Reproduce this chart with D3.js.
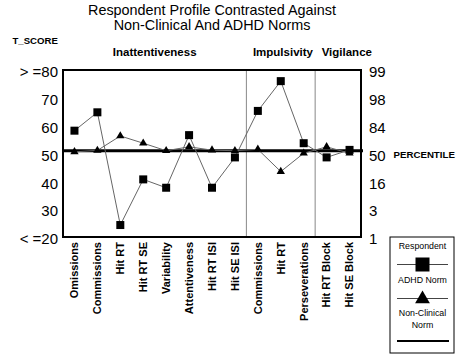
<!DOCTYPE html>
<html>
<head>
<meta charset="utf-8">
<script src="https://cdn.jsdelivr.net/npm/d3@7"></script>
<style>
  html, body { margin: 0; padding: 0; background: #fff; }
  svg { display: block; font-family: Arial, "Liberation Sans", Helvetica, sans-serif; }
</style>
</head>
<body>
<svg id="chart" width="462" height="356"></svg>
<script>
const categories = ["Omissions","Commissions","Hit RT","Hit RT SE","Variability","Attentiveness","Hit RT ISI","Hit SE ISI","Commissions","Hit RT","Perseverations","Hit RT Block","Hit SE Block"];
const groupNames = ["Inattentiveness","Impulsivity","Vigilance"];
const groupSizes = [8, 3, 2];
const respondent = [58.2, 64.8, 24.3, 40.7, 37.7, 56.6, 37.7, 48.6, 65.3, 76, 53.7, 48.6, 51.3];
const adhdNorm = [50.6, 51.1, 56.3, 53.7, 51, 52.4, 51.2, 51, 51.5, 43.5, 50.1, 52.4, 50.1];
const nonClinicalNorm = 51;
const tScoreTicks = [20, 30, 40, 50, 60, 70, 80];
const tScoreLabels = ["< =20", "30", "40", "50", "60", "70", "> =80"];
const percentileLabels = ["1", "3", "16", "50", "84", "98", "99"];
const titleLines = ["Respondent Profile Contrasted Against", "Non-Clinical And ADHD Norms"];
const legendLabels = ["Respondent", "ADHD Norm", "Non-Clinical", "Norm"];

const svg = d3.select("#chart");
const L = 63, R = 361, T = 70, B = 237;

const x = d3.scaleBand().domain(d3.range(categories.length)).range([L, R]).padding(0);
const y = d3.scaleLinear().domain([20, 80]).range([B, T]);
const cx = i => x(i) + x.bandwidth() / 2;

// Title
svg.append("g").selectAll("text").data(titleLines).join("text")
  .attr("x", 212).attr("y", (d, i) => 15 + i * 15)
  .attr("text-anchor", "middle").attr("font-size", 14.4).attr("fill", "#000")
  .text(d => d);

// T_SCORE label
svg.append("text").attr("x", 12.5).attr("y", 43.5).attr("font-size", 9.6)
  .attr("font-weight", "bold").text("T_SCORE");

// Group labels
let start = 0;
const groupStarts = groupSizes.map(s => { const st = start; start += s; return st; });
svg.append("g").selectAll("text").data(groupNames).join("text")
  .attr("x", (d, i) => i === 0 ? (x(groupStarts[0]) + x(groupStarts[0] + groupSizes[0] - 1) + x.bandwidth()) / 2 : x(groupStarts[i]) + 6.5)
  .attr("y", 55.5)
  .attr("text-anchor", (d, i) => i === 0 ? "middle" : "start")
  .attr("font-size", 11.5).attr("font-weight", "bold")
  .text(d => d);

// Dividers
svg.append("g").selectAll("line").data(groupStarts.slice(1)).join("line")
  .attr("x1", d => x(d)).attr("x2", d => x(d)).attr("y1", T).attr("y2", B)
  .attr("stroke", "#888").attr("stroke-width", 1);

// Left axis
const leftAxis = d3.axisLeft(y).tickValues(tScoreTicks).tickSize(0).tickPadding(0)
  .tickFormat((d, i) => tScoreLabels[i]);
const gl = svg.append("g").attr("transform", `translate(58,0)`).call(leftAxis);
gl.select(".domain").remove();
gl.selectAll("text").attr("font-size", 15).attr("font-family", null).attr("dy", "0.45em").attr("fill", "#000");

// Right axis
const rightAxis = d3.axisRight(y).tickValues(tScoreTicks).tickSize(0).tickPadding(0)
  .tickFormat((d, i) => percentileLabels[i]);
const gr = svg.append("g").attr("transform", `translate(369,0)`).call(rightAxis);
gr.select(".domain").remove();
gr.selectAll("text").attr("font-size", 15).attr("font-family", null).attr("dy", "0.45em").attr("fill", "#000");

svg.append("text").attr("x", 393.5).attr("y", y(50) + 4.8).attr("font-size", 9.7)
  .attr("font-weight", "bold").text("PERCENTILE");

// Bottom axis labels
const bottomAxis = d3.axisBottom(x).tickSize(0).tickPadding(0).tickFormat(i => categories[i]);
const gb = svg.append("g").attr("transform", `translate(0,${B + 5})`).call(bottomAxis);
gb.select(".domain").remove();
gb.selectAll("text")
  .attr("font-size", 11).attr("font-weight", "bold").attr("font-family", null).attr("fill", "#000")
  .attr("text-anchor", "end").attr("transform", "rotate(-90)")
  .attr("x", 0).attr("y", 0).attr("dy", "0.35em");

// Non-clinical norm line
svg.append("line").attr("x1", L).attr("x2", R + 2)
  .attr("y1", y(nonClinicalNorm)).attr("y2", y(nonClinicalNorm))
  .attr("stroke", "#000").attr("stroke-width", 3);

// Series lines
const line = d3.line().x((d, i) => cx(i)).y(d => y(d));
svg.append("path").datum(adhdNorm).attr("d", line).attr("fill", "none")
  .attr("stroke", "#666").attr("stroke-width", 1);
svg.append("path").datum(respondent).attr("d", line).attr("fill", "none")
  .attr("stroke", "#666").attr("stroke-width", 1);

// Triangles
const tri = d3.symbol().type(d3.symbolTriangle).size(30);
svg.append("g").selectAll("path").data(adhdNorm).join("path")
  .attr("d", tri).attr("transform", (d, i) => `translate(${cx(i)},${y(d)})`).attr("fill", "#000");

// Squares
svg.append("g").selectAll("rect").data(respondent).join("rect")
  .attr("x", (d, i) => cx(i) - 4).attr("y", d => y(d) - 4)
  .attr("width", 8).attr("height", 8).attr("fill", "#000");

// Plot border
svg.append("rect").attr("x", L).attr("y", T).attr("width", R - L).attr("height", B - T)
  .attr("fill", "none").attr("stroke", "#000").attr("stroke-width", 2);

// Legend
const lg = svg.append("g");
lg.append("rect").attr("x", 390).attr("y", 237).attr("width", 64).attr("height", 116)
  .attr("fill", "#fff").attr("stroke", "#000").attr("stroke-width", 1);
const lcx = 422.5;
lg.append("text").attr("x", lcx).attr("y", 249).attr("text-anchor", "middle").attr("font-size", 8.8).text(legendLabels[0]);
lg.append("line").attr("x1", 397).attr("x2", 448).attr("y1", 264.5).attr("y2", 264.5).attr("stroke", "#444").attr("stroke-width", 1);
lg.append("rect").attr("x", lcx - 7).attr("y", 257.5).attr("width", 14).attr("height", 14).attr("fill", "#000");
lg.append("text").attr("x", lcx).attr("y", 282.5).attr("text-anchor", "middle").attr("font-size", 8.8).text(legendLabels[1]);
lg.append("line").attr("x1", 397).attr("x2", 448).attr("y1", 298.5).attr("y2", 298.5).attr("stroke", "#444").attr("stroke-width", 1);
lg.append("path").attr("d", d3.symbol().type(d3.symbolTriangle).size(95)).attr("transform", `translate(${lcx},299)`).attr("fill", "#000");
lg.append("text").attr("x", lcx).attr("y", 315.5).attr("text-anchor", "middle").attr("font-size", 8.8).text(legendLabels[2]);
lg.append("text").attr("x", lcx).attr("y", 327.5).attr("text-anchor", "middle").attr("font-size", 8.8).text(legendLabels[3]);
lg.append("line").attr("x1", 397).attr("x2", 449).attr("y1", 341).attr("y2", 341).attr("stroke", "#000").attr("stroke-width", 2);
</script>
</body>
</html>
